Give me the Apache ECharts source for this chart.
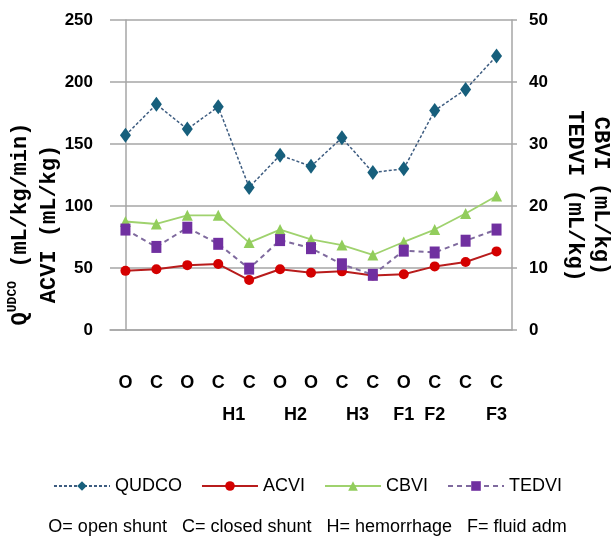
<!DOCTYPE html>
<html>
<head>
<meta charset="utf-8">
<script src="https://cdn.jsdelivr.net/npm/echarts@6/dist/echarts.min.js"></script>
<style>
html, body { margin: 0; padding: 0; background: #fff; }
#chart { width: 615px; height: 541px; }
</style>
</head>
<body>
<div id="chart"></div>
<script>
var phases = ['O', 'C', 'O', 'C', 'C', 'O', 'O', 'C', 'C', 'O', 'C', 'C', 'C'];
// second row of x labels, at positions in category units
var stageLabels = { '3.5': 'H1', '5.5': 'H2', '7.5': 'H3', '9': 'F1', '10': 'F2', '12': 'F3' };

// left axis (mL/kg/min, mL/kg)
var qudco = [157, 182, 162, 180, 115, 141, 132, 155, 127, 130, 177, 194, 221];
var acvi = [47.7, 49, 52.3, 53.2, 40.3, 49, 46.2, 47.3, 44, 45, 51.3, 54.8, 63.4];
// right axis (mL/kg)
var cbvi = [17.5, 17.1, 18.5, 18.5, 14.1, 16.2, 14.6, 13.7, 12.1, 14.2, 16.2, 18.8, 21.6];
var tedvi = [16.2, 13.4, 16.5, 13.9, 9.9, 14.5, 13.2, 10.6, 8.9, 12.8, 12.5, 14.4, 16.2];

var sans = "'Liberation Sans', Arial, sans-serif";
var mono = "'Liberation Mono', 'DejaVu Sans Mono', monospace";
var gridColor = '#a6a6a6';

var myChart = echarts.init(document.getElementById('chart'));

var option = {
    animation: false,
    backgroundColor: '#fff',
    title: {
        text: 'O= open shunt   C= closed shunt   H= hemorrhage   F= fluid adm',
        left: 'center',
        top: 513,
        textStyle: { fontFamily: sans, fontSize: 18, fontWeight: 'normal', color: '#000' }
    },
    legend: {
        left: 'center',
        top: 472,
        itemWidth: 56,
        itemHeight: 12,
        itemGap: 19,
        textStyle: { fontFamily: sans, fontSize: 18, color: '#000' },
        data: ['QUDCO', 'ACVI', 'CBVI', 'TEDVI']
    },
    grid: { left: 110, right: 103, top: 20, bottom: 211, outerBoundsMode: 'none', containLabel: false },
    xAxis: [{
        type: 'category',
        data: phases,
        axisLine: { lineStyle: { color: gridColor, width: 1.5 } },
        axisTick: { show: false },
        axisLabel: { margin: 44, fontFamily: sans, fontSize: 18, fontWeight: 'bold', color: '#000' }
    }, {
        type: 'value',
        position: 'bottom',
        min: -0.5,
        max: 12.5,
        interval: 0.5,
        axisLine: { show: false },
        axisTick: { show: false },
        splitLine: { show: false },
        axisLabel: {
            margin: 76,
            fontFamily: sans, fontSize: 18, fontWeight: 'bold', color: '#000',
            formatter: function (v) { return stageLabels[String(v)] || ''; }
        }
    }],
    yAxis: [{
        type: 'value',
        min: 0, max: 250, interval: 50,
        axisLine: { show: true, lineStyle: { color: gridColor, width: 1.5 } },
        axisTick: { show: false },
        splitLine: { lineStyle: { color: gridColor, width: 1.5 } },
        axisLabel: { margin: 17, fontFamily: sans, fontSize: 17, fontWeight: 'bold', color: '#000' },
        name: '{b|Q}{s|UDCO}{b| (mL/kg/min)}\n{b|ACVI (mL/kg)}',
        nameLocation: 'middle',
        nameRotate: 90,
        nameGap: 46,
        nameMoveOverlap: false,
        nameTextStyle: {
            padding: [0, 98, 0, 0],
            rich: {
                b: { fontFamily: mono, fontSize: 22, fontWeight: 'bold', color: '#000', lineHeight: 29 },
                s: { fontFamily: mono, fontSize: 13, fontWeight: 'bold', color: '#000', verticalAlign: 'top', lineHeight: 29 }
            }
        }
    }, {
        type: 'value',
        min: 0, max: 50, interval: 10,
        position: 'right',
        axisLine: { show: true, lineStyle: { color: gridColor, width: 1.5 } },
        axisTick: { show: true, length: 5, lineStyle: { color: gridColor, width: 1.5 } },
        splitLine: { show: false },
        axisLabel: { margin: 17, fontFamily: sans, fontSize: 17, fontWeight: 'bold', color: '#000' },
        name: 'CBVI (mL/kg)\nTEDVI (mL/kg)',
        nameLocation: 'middle',
        nameRotate: -90,
        nameGap: 50,
        nameMoveOverlap: false,
        nameTextStyle: { fontFamily: mono, fontSize: 22, fontWeight: 'bold', color: '#000', lineHeight: 26, padding: [0, 0, 0, 42] }
    }],
    series: [{
        name: 'QUDCO',
        type: 'line',
        yAxisIndex: 0,
        data: qudco,
        symbol: 'diamond',
        symbolSize: [11, 15],
        itemStyle: { color: '#175f7c' },
        lineStyle: { color: '#3d5c80', width: 1.5, type: [3, 2] }
    }, {
        name: 'ACVI',
        type: 'line',
        yAxisIndex: 0,
        data: acvi,
        symbol: 'circle',
        symbolSize: 10,
        itemStyle: { color: '#d40000' },
        lineStyle: { color: '#b81c1c', width: 2 }
    }, {
        name: 'CBVI',
        type: 'line',
        yAxisIndex: 1,
        data: cbvi,
        symbol: 'triangle',
        symbolSize: 11,
        itemStyle: { color: '#92cd5c' },
        lineStyle: { color: '#9fd26e', width: 1.8 }
    }, {
        name: 'TEDVI',
        type: 'line',
        yAxisIndex: 1,
        data: tedvi,
        symbol: 'rect',
        symbolSize: [10, 12],
        itemStyle: { color: '#7030a0' },
        lineStyle: { color: '#7f6a9e', width: 2, type: [5, 4] }
    }]
};

myChart.setOption(option);
</script>
</body>
</html>
